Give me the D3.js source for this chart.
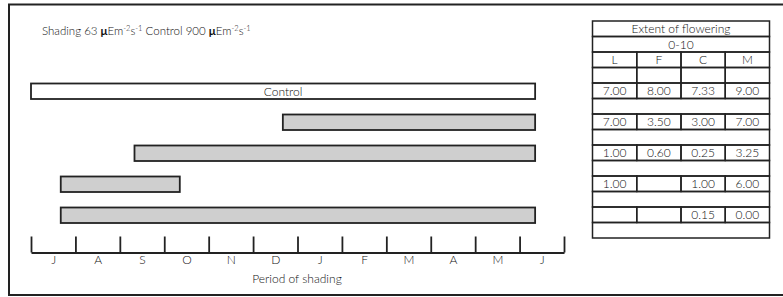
<!DOCTYPE html>
<html><head><meta charset="utf-8">
<script src="https://cdn.jsdelivr.net/npm/d3@7"></script>
<style>body{margin:0;background:#fff}svg{display:block}text{font-family:Lato,"Open Sans",sans-serif;font-weight:300;fill:#111}</style>
</head><body><svg id="c" width="783" height="297"></svg>
<script>
// ---- data ----
const months = ["J","A","S","O","N","D","J","F","M","A","M","J"];
const barLabels = ["Control","","","",""];
const barStart = [0, 5.67, 2.33, 0.67, 0.67];   // months after 1 July
const barEnd   = [11.35, 11.35, 11.35, 3.35, 11.35];
const barIsControl = [true, false, false, false, false];
const tableCols = ["L","F","C","M"];
const flowering = [
  ["7.00","8.00","7.33","9.00"],
  ["7.00","3.50","3.00","7.00"],
  ["1.00","0.60","0.25","3.25"],
  ["1.00","","1.00","6.00"],
  ["","","0.15","0.00"]
];

const svg = d3.select("#c");
const ink = "#222";
const fs = "12px";

// frame
svg.append("rect").attr("x",9).attr("y",4.5).attr("width",790).attr("height",290.5)
  .attr("fill","none").attr("stroke",ink).attr("stroke-width",2);

// title
const t = svg.append("text").attr("x",42).attr("y",35).style("font-size","11.5px");
t.append("tspan").text("Shading 63 ");
t.append("tspan").text("μ").style("font-weight","bold");
t.append("tspan").text("Em");
t.append("tspan").text("-2").attr("dy",-4).style("font-size","7.5px");
t.append("tspan").text("s").attr("dy",4);
t.append("tspan").text("-1").attr("dy",-4).style("font-size","7.5px");
t.append("tspan").text(" Control 900 ").attr("dy",4);
t.append("tspan").text("μ").style("font-weight","bold");
t.append("tspan").text("Em");
t.append("tspan").text("-2").attr("dy",-4).style("font-size","7.5px");
t.append("tspan").text("s").attr("dy",4);
t.append("tspan").text("-1").attr("dy",-4).style("font-size","7.5px");

// scales
const x = d3.scaleLinear().domain([0,12]).range([31,564]);
const tableTop = 21, rowH = 15.5;
const tblX = d3.scaleBand().domain(tableCols).range([592.5,769.5]);
const rowY = i => tableTop + i*rowH;
const barRows = [4,6,8,10,12];

// bars
const bars = svg.append("g");
barStart.forEach((s,i)=>{
  const y0 = rowY(barRows[i]);
  bars.append("rect").attr("x",x(s)).attr("y",y0+0.5)
    .attr("width",x(barEnd[i])-x(s)).attr("height",rowH)
    .attr("fill",barIsControl[i]?"#fff":"#cfcfcf").attr("stroke",ink).attr("stroke-width",1.8);
  if(barLabels[i]) bars.append("text").attr("x",(x(s)+x(barEnd[i]))/2).attr("y",y0+rowH/2+4.8)
    .attr("text-anchor","middle").style("font-size",fs).text(barLabels[i]);
});

// axis ticks
const axisY = 252.5;
const ax = svg.append("g").attr("transform",`translate(0,${axisY})`)
  .call(d3.axisBottom(x).tickValues(d3.range(0,13)).tickSize(-16).tickSizeOuter(0).tickFormat(""));
ax.selectAll("line,path").attr("stroke",ink).attr("stroke-width",1.8);
const ax2 = svg.append("g").attr("transform",`translate(0,${axisY})`)
  .call(d3.axisBottom(x).tickValues(d3.range(0.5,12,1)).tickSize(0).tickPadding(3)
    .tickFormat((d,i)=>months[i]));
ax2.select(".domain").remove();
ax2.selectAll("text").style("font-size",fs).style("font-family","Lato,sans-serif").style("font-weight","300").attr("fill","#111");
svg.append("text").attr("x",297).attr("y",283).attr("text-anchor","middle").style("font-size",fs).text("Period of shading");

// table
const tbl = svg.append("g");
const tl = tblX.range()[0], tr = tblX.range()[1];
const nRows = 14;
for(let r=0;r<nRows;r++){
  const merged = r<2 || (r>=5 && r%2===1) || r===13;
  if(merged){
    tbl.append("rect").attr("x",tl).attr("y",rowY(r)).attr("width",tr-tl).attr("height",rowH)
      .attr("fill","none").attr("stroke",ink).attr("stroke-width",1.5);
  } else {
    tableCols.forEach(c=>{
      tbl.append("rect").attr("x",tblX(c)).attr("y",rowY(r)).attr("width",tblX.bandwidth()).attr("height",rowH)
        .attr("fill","none").attr("stroke",ink).attr("stroke-width",1.5);
    });
  }
}
const cx = (tl+tr)/2;
const ty = 12;
tbl.append("text").attr("x",cx).attr("y",rowY(0)+ty).attr("text-anchor","middle").style("font-size",fs).text("Extent of flowering");
tbl.append("text").attr("x",cx).attr("y",rowY(1)+ty).attr("text-anchor","middle").style("font-size",fs).text("0-10");
tableCols.forEach(c=>{
  tbl.append("text").attr("x",tblX(c)+tblX.bandwidth()/2).attr("y",rowY(2)+ty).attr("text-anchor","middle").style("font-size",fs).text(c);
});
flowering.forEach((row,i)=>{
  row.forEach((v,j)=>{
    if(!v) return;
    const c = tableCols[j];
    tbl.append("text").attr("x",tblX(c)+tblX.bandwidth()/2).attr("y",rowY(barRows[i])+ty)
      .attr("text-anchor","middle").style("font-size",fs).text(v);
  });
});
</script></body></html>
